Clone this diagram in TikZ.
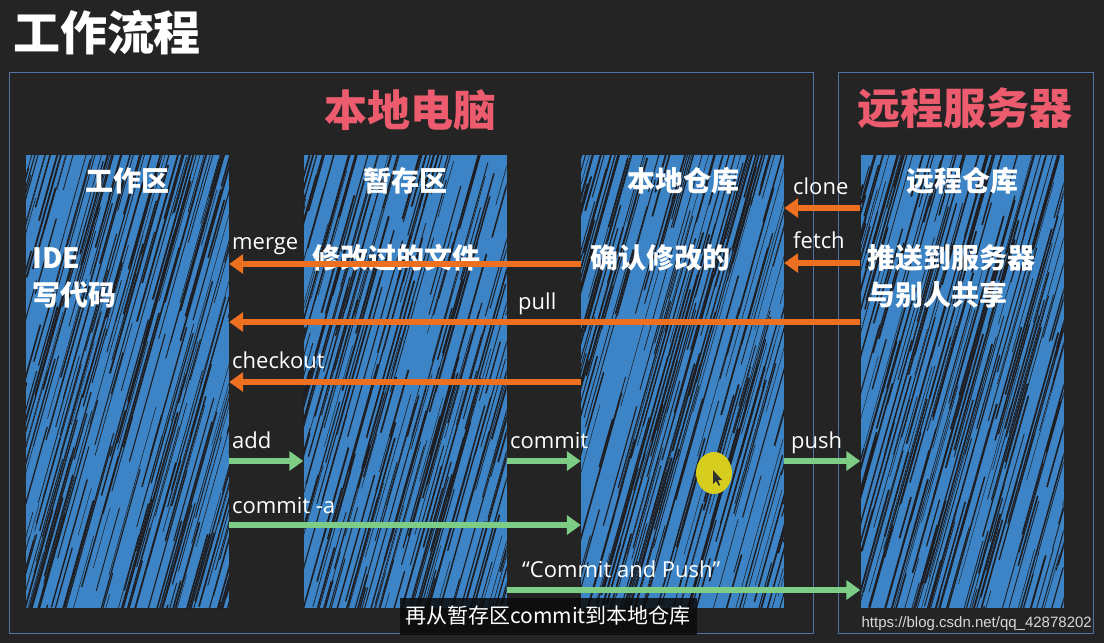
\documentclass[tikz,border=0pt]{standalone}
\usepackage{fontspec}
\setmainfont{Open Sans}
\newfontfamily\cjk{Noto Sans CJK SC}
\newfontfamily\wmfont{Liberation Sans}
\usetikzlibrary{arrows.meta,calc}
\definecolor{board}{RGB}{36,36,36}
\definecolor{frameblue}{RGB}{80,115,165}
\definecolor{colblue}{RGB}{60,132,198}
\definecolor{streak}{RGB}{30,30,34}
\definecolor{titlered}{RGB}{236,92,110}
\definecolor{orangeA}{RGB}{236,112,32}
\definecolor{greenA}{RGB}{125,205,135}
\definecolor{cursorY}{RGB}{215,205,30}
\begin{document}
\begin{tikzpicture}[x=1pt,y=-1pt,
  column/.style={minimum width=203pt, minimum height=453pt, inner sep=0pt, fill=colblue,
    path picture={
      \pgfmathsetseed{#1}
      \foreach \k in {1,...,330}{
        \pgfmathsetmacro\xx{rnd*290-80}
        \pgfmathsetmacro\yy{30+rnd*560}
        \pgfmathsetmacro\ll{40+rnd*200}
        \pgfmathsetmacro\ww{0.4+rnd*1.5}
        \draw[streak, line width=\ww pt, line cap=round]
          ($(path picture bounding box.north west)+(\xx,\yy)$) -- ++(0.28*\ll,-\ll);
      }
    }},
  frame/.style={draw=frameblue, line width=1pt},
  ttl/.style={font=\cjk\bfseries\fontsize{28}{30}\selectfont, text=white, inner sep=0pt},
  body/.style={font=\cjk\bfseries\fontsize{28}{32}\selectfont, text=white, anchor=west, inner sep=0pt},
  big/.style={font=\cjk\bfseries\fontsize{43}{46}\selectfont, text=titlered, inner sep=0pt},
  lbl/.style={font=\fontsize{22}{24}\selectfont, text=white, anchor=base west, inner sep=0pt},
  oarr/.style={draw=orangeA, line width=6pt, -{Triangle[width=19pt,length=14pt]}},
  garr/.style={draw=greenA, line width=6pt, -{Triangle[width=19pt,length=14pt]}},
]
\useasboundingbox (0,0) rectangle (1104,643);
\fill[board] (0,0) rectangle (1104,643);

% title
\node[font=\cjk\bfseries\fontsize{47}{50}\selectfont, text=white, inner sep=0pt] (title) at (107,33) {工作流程};

% frames
\draw[frame] (9,72) rectangle (813,633);
\draw[frame] (838,72) rectangle (1093,633);
\node[big] (local) at (410,110) {本地电脑};
\node[big] (remote) at (965,108) {远程服务器};

% columns
\node[column=11] (c1) at (127.5,381.5) {};
\node[column=23] (c2) at (405,381.5) {};
\node[column=37] (c3) at (682.5,381.5) {};
\node[column=51] (c4) at (962,381.5) {};

% column titles
\node[ttl] (t1) at (127,181) {工作区};
\node[ttl] (t2) at (405,181) {暂存区};
\node[ttl] (t3) at (683,181) {本地仓库};
\node[ttl] (t4) at (962,181) {远程仓库};

% body texts
\node[body] (b1a) at (32,258) {IDE};
\node[body] (b1b) at (32,295) {写代码};
\node[body] (b2) at (312,258) {修改过的文件};
\node[body] (b3) at (590,258) {确认修改的};
\node[body] (b4a) at (867,258) {推送到服务器};
\node[body] (b4b) at (867,295) {与别人共享};

% orange arrows
\draw[oarr] (c4.west |- 0,208) -- (c3.east |- 0,208);
\draw[oarr] (c4.west |- 0,263) -- (c3.east |- 0,263);
\draw[oarr] (c3.west |- 0,264) -- (c1.east |- 0,264);
\draw[oarr] (c4.west |- 0,322) -- (c1.east |- 0,322);
\draw[oarr] (c3.west |- 0,382) -- (c1.east |- 0,382);

% green arrows
\draw[garr] (c1.east |- 0,461) -- (c2.west |- 0,461);
\draw[garr] (c2.east |- 0,461) -- (c3.west |- 0,461);
\draw[garr] (c3.east |- 0,461) -- (c4.west |- 0,461);
\draw[garr] (c1.east |- 0,525) -- (c3.west |- 0,525);
\draw[garr] (c2.east |- 0,590) -- (c4.west |- 0,590);

% labels
\node[lbl] (lclone) at (793,194) {clone};
\node[lbl] (lfetch) at (793,248) {fetch};
\node[lbl] (lmerge) at (232,249) {merge};
\node[lbl] (lpull) at (518,309) {pull};
\node[lbl] (lcheckout) at (232,368) {checkout};
\node[lbl] (ladd) at (232,448) {add};
\node[lbl] (lcommit) at (510,448) {commit};
\node[lbl] (lpush) at (791,448) {push};
\node[lbl] (lcommita) at (232,513) {commit -a};
\node[lbl] (lcp) at (522,577) {“Commit and Push”};

% cursor highlight
\fill[cursorY] (714,473) ellipse [x radius=18, y radius=21];
\fill[black!80] (713,470) -- (713,484) -- (716,481) -- (719,486) -- (720,485) -- (718,480) -- (722,480) -- cycle;

% subtitle
\node[fill=black!70!board, fill opacity=0.85, text opacity=1, text=white,
      font=\cjk\fontsize{21}{23}\selectfont, minimum width=297pt, minimum height=37pt, inner sep=0pt]
      (sub) at (548,616) {再从暂存区commit到本地仓库};

% watermark
\node[font=\wmfont\fontsize{15}{17}\selectfont, text=white!85!black, anchor=east, inner sep=0pt]
      (wm) at (1092,624) {https://blog.csdn.net/qq\_42878202};
\end{tikzpicture}
\end{document}
